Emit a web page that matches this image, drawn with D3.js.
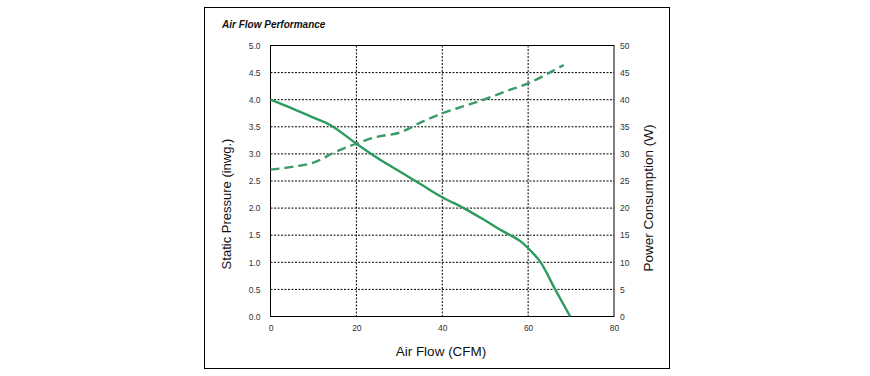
<!DOCTYPE html>
<html lang="en">
<head>
<meta charset="utf-8">
<title>Air Flow Performance</title>
<style>
	html, body {
		margin: 0;
		padding: 0;
		background: #fff;
	}
	svg text {
		font-family: 'Liberation Sans', Arial, sans-serif;
	}
	.tick text {
		font-size: 8.5px;
		fill: #333;
	}
	.grid line {
		stroke: #000;
		stroke-dasharray: 2,1.5;
		stroke-width: 1;
	}
</style>
</head>
<body>
<svg width="870" height="376"></svg>
<script src="https://cdn.jsdelivr.net/npm/d3@7/dist/d3.min.js"></script>
<script>
// air flow (CFM) vs static pressure (inwg.)
var pressureFlow = [0, 5, 10, 14, 20, 25, 30, 35, 40, 45, 50, 54, 58, 61, 63, 66.3, 69.8];
var pressureVals = [4.0, 3.84, 3.67, 3.53, 3.19, 2.92, 2.68, 2.44, 2.2, 2.0, 1.77, 1.58, 1.4, 1.18, 0.99, 0.5, 0.0];

// air flow (CFM) vs power consumption (W)
var powerFlow = [0, 5, 10, 15, 20, 25, 30, 35, 40, 45, 50, 55, 60, 65, 68.3];
var powerVals = [27.1, 27.6, 28.4, 30.3, 31.9, 33.2, 33.9, 35.8, 37.5, 38.8, 40.1, 41.6, 43.0, 45.0, 46.4];

var xTicks = [0, 20, 40, 60, 80];
var yLeftTicks = [0, 0.5, 1, 1.5, 2, 2.5, 3, 3.5, 4, 4.5, 5];
var yRightTicks = [0, 5, 10, 15, 20, 25, 30, 35, 40, 45, 50];

var svg = d3.select("svg"),
    margin = {top: 45.5, left: 270.5},
    width = 343.5,
    height = 271;

// outer frame
svg.append("rect")
    .attr("x", 204.5).attr("y", 7.5)
    .attr("width", 465).attr("height", 361)
    .attr("fill", "none").attr("stroke", "#000").attr("stroke-width", 1);

svg.append("text")
    .attr("x", 222).attr("y", 28)
    .attr("font-size", "10px").attr("font-weight", "bold").attr("font-style", "italic")
    .attr("fill", "#111")
    .text("Air Flow Performance");

var x = d3.scaleLinear().domain([0, 80]).range([0, width]),
    yL = d3.scaleLinear().domain([0, 5]).range([height, 0]),
    yR = d3.scaleLinear().domain([0, 50]).range([height, 0]);

var g = svg.append("g")
    .attr("transform", "translate(" + margin.left + "," + margin.top + ")");

// grid
g.append("g").attr("class", "grid")
    .selectAll("line").data(yLeftTicks.slice(1, -1))
    .enter().append("line")
      .attr("x1", 0).attr("x2", width)
      .attr("y1", function(d) { return yL(d); })
      .attr("y2", function(d) { return yL(d); });

g.append("g").attr("class", "grid")
    .selectAll("line").data(xTicks.slice(1, -1))
    .enter().append("line")
      .attr("y1", 0).attr("y2", height)
      .attr("x1", function(d) { return x(d); })
      .attr("x2", function(d) { return x(d); });

g.append("rect")
    .attr("width", width).attr("height", height)
    .attr("fill", "none").attr("stroke", "#000").attr("stroke-width", 1);

// axes
var ax = g.append("g")
    .attr("transform", "translate(0," + height + ")")
    .call(d3.axisBottom(x).tickValues(xTicks).tickSize(0).tickPadding(8));
var al = g.append("g")
    .call(d3.axisLeft(yL).tickValues(yLeftTicks).tickFormat(d3.format(".1f")).tickSize(0).tickPadding(10));
var ar = g.append("g")
    .attr("transform", "translate(" + width + ",0)")
    .call(d3.axisRight(yR).tickValues(yRightTicks).tickSize(0).tickPadding(6));
[ax, al, ar].forEach(function(a) {
  a.select(".domain").remove();
  a.selectAll("text").attr("font-family", null).attr("font-size", null);
});

// lines
var pData = pressureFlow.map(function(f, i) { return {x: f, y: pressureVals[i]}; });
var wData = powerFlow.map(function(f, i) { return {x: f, y: powerVals[i]}; });

g.append("path")
    .datum(pData)
    .attr("fill", "none")
    .attr("stroke", "#2c9b5f")
    .attr("stroke-width", 2.4)
    .attr("d", d3.line()
      .curve(d3.curveCatmullRom.alpha(0.5))
      .x(function(d) { return x(d.x); })
      .y(function(d) { return yL(d.y); }));

g.append("path")
    .datum(wData)
    .attr("fill", "none")
    .attr("stroke", "#3a9a68")
    .attr("stroke-width", 2.4)
    .attr("stroke-dasharray", "9,5")
    .attr("d", d3.line()
      .curve(d3.curveCatmullRom.alpha(0.5))
      .x(function(d) { return x(d.x); })
      .y(function(d) { return yR(d.y); }));

// axis titles
svg.append("text")
    .attr("x", 441).attr("y", 356)
    .attr("text-anchor", "middle")
    .attr("font-size", "13.5px").attr("fill", "#111")
    .text("Air Flow (CFM)");

svg.append("text")
    .attr("transform", "translate(231,204) rotate(-90)")
    .attr("text-anchor", "middle")
    .attr("font-size", "13px").attr("fill", "#111")
    .text("Static Pressure (inwg.)");

svg.append("text")
    .attr("transform", "translate(653,198) rotate(-90)")
    .attr("text-anchor", "middle")
    .attr("font-size", "13.5px").attr("fill", "#111")
    .text("Power Consumption (W)");
</script>
</body>
</html>
